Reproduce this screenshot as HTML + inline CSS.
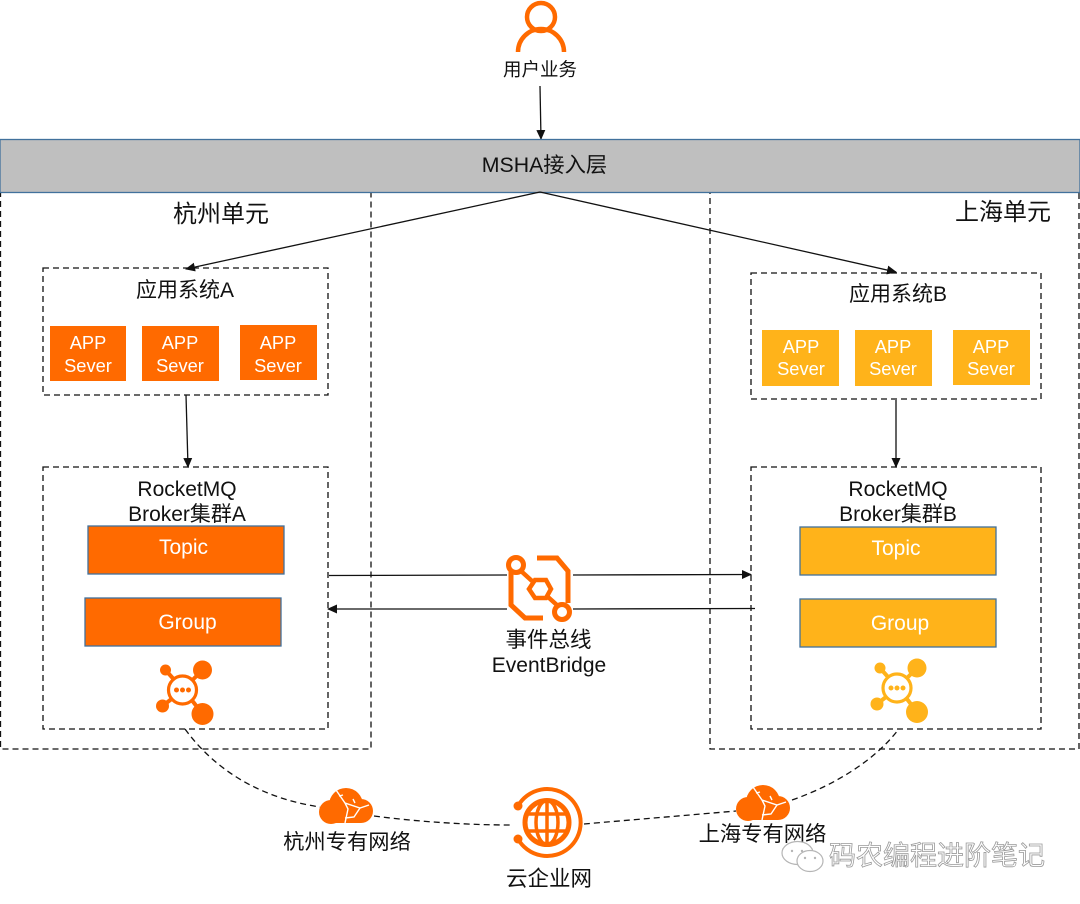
<!DOCTYPE html>
<html><head><meta charset="utf-8"><style>
html,body{margin:0;padding:0;background:#fff}
svg{display:block}
text{font-family:"Liberation Sans","Noto Sans CJK SC",sans-serif;fill:#111;text-anchor:middle}
.w{fill:#fff;font-size:18.3px}
.t{font-size:21px}
.s{font-size:21px}
.d{fill:none;stroke:#111;stroke-width:1.3;stroke-dasharray:6 4}
.a{stroke:#111;stroke-width:1.3;fill:none;marker-end:url(#m)}
.o{fill:#ff6a00}.y{fill:#ffb31a}
.bar{stroke:#41719c;stroke-width:1.3}
</style></head><body>
<svg width="1080" height="904" viewBox="0 0 1080 904" xmlns="http://www.w3.org/2000/svg">
<defs><marker id="m" markerWidth="10" markerHeight="9" refX="9" refY="4.5" orient="auto" markerUnits="userSpaceOnUse"><path d="M0 0L10 4.5L0 9Z" fill="#111"/></marker>
<g id="cloud"><circle cx="346" cy="805" r="17"/><circle cx="331" cy="812" r="12"/><circle cx="361" cy="811" r="12"/><rect x="331" y="808" width="30" height="15"/><path d="M336 790l9 13 15 5 9 -3M345 803l3 6-3 14M360 808l-6 9-9 1M339 796l4-1M353 799l2 4" fill="none" stroke="#fff" stroke-width="1.4"/></g>
<g id="hub" fill="none"><circle cx="0" cy="0" r="14" stroke-width="3.2" stroke="currentColor"/><g fill="currentColor"><circle cx="-6" cy="0" r="2.5"/><circle cx="0" cy="0" r="2.5"/><circle cx="6" cy="0" r="2.5"/><circle cx="-17" cy="-20" r="5.5"/><circle cx="20" cy="-20" r="9.5"/><circle cx="-20" cy="16" r="6.5"/><circle cx="20" cy="24" r="11"/></g><path d="M-17-20L-9-11M20-20L10-10M-20 16L-11 9M20 24L10 11" stroke="currentColor" stroke-width="4"/></g>
</defs>

<!-- user -->
<circle cx="541" cy="17" r="14" fill="none" stroke="#ff6a00" stroke-width="4.5"/>
<path d="M518 52A23 23 0 0 1 564 52" fill="none" stroke="#ff6a00" stroke-width="4.5"/>
<text x="540" y="76" style="font-size:18.5px">用户业务</text>
<line class="a" x1="540" y1="86" x2="541" y2="139"/>

<!-- units -->
<rect class="d" x="0.5" y="192" width="370.5" height="557"/>
<rect class="d" x="710" y="192" width="369" height="557"/>
<rect class="bar" x="0" y="139.5" width="1080" height="53" fill="#bfbfbf"/>
<text x="544.500" y="172" style="font-size:21.300px">MSHA接入层</text>
<text x="221" y="222" style="font-size:24px">杭州单元</text>
<text x="1003" y="220" style="font-size:24px">上海单元</text>
<line class="a" x1="540" y1="192" x2="186" y2="269"/>
<line class="a" x1="540" y1="192" x2="896" y2="272"/>

<!-- app A -->
<rect class="d" x="43" y="268" width="285" height="127"/>
<text x="185" y="297" class="s">应用系统A</text>
<rect class="o" x="50" y="326" width="76" height="55"/>
<rect class="o" x="142" y="326" width="77" height="55"/>
<rect class="o" x="240" y="325" width="77" height="55"/>
<text class="w" x="88" y="349">APP</text><text class="w" x="88" y="372">Sever</text>
<text class="w" x="180" y="349">APP</text><text class="w" x="180" y="372">Sever</text>
<text class="w" x="278" y="349">APP</text><text class="w" x="278" y="372">Sever</text>

<!-- app B -->
<rect class="d" x="751" y="273" width="290" height="126"/>
<text x="898" y="301" class="s">应用系统B</text>
<rect class="y" x="762" y="330" width="77" height="56"/>
<rect class="y" x="855" y="330" width="77" height="56"/>
<rect class="y" x="953" y="330" width="77" height="55"/>
<text class="w" x="801" y="353">APP</text><text class="w" x="801" y="375">Sever</text>
<text class="w" x="893" y="353">APP</text><text class="w" x="893" y="375">Sever</text>
<text class="w" x="991" y="353">APP</text><text class="w" x="991" y="375">Sever</text>

<line class="a" x1="186" y1="395" x2="188" y2="467"/>
<line class="a" x1="896" y1="400" x2="896" y2="467"/>

<!-- rocket A -->
<rect class="d" x="43" y="467" width="285" height="262"/>
<text x="187" y="496" class="s">RocketMQ</text>
<text x="187" y="521" class="s">Broker集群A</text>
<rect class="o bar" x="88" y="526" width="196" height="48"/>
<rect class="o bar" x="85" y="598" width="196" height="48"/>
<text class="w t" x="183.500" y="554">Topic</text>
<text class="w t" x="187.500" y="629">Group</text>
<use href="#hub" transform="translate(182.500,690)" style="color:#ff6a00"/>

<!-- rocket B -->
<rect class="d" x="751" y="467" width="290" height="262"/>
<text x="898" y="496" class="s">RocketMQ</text>
<text x="898" y="521" class="s">Broker集群B</text>
<rect class="y bar" x="800" y="527" width="196" height="48"/>
<rect class="y bar" x="800" y="599" width="196" height="48"/>
<text class="w t" x="896" y="555">Topic</text>
<text class="w t" x="900" y="630">Group</text>
<use href="#hub" transform="translate(897,688)" style="color:#ffb31a"/>

<!-- bridge lines -->
<line x1="329" y1="575.500" x2="507" y2="575" stroke="#111" stroke-width="1.3"/>
<line class="a" x1="573" y1="575" x2="751" y2="574.500"/>
<line x1="755" y1="608.500" x2="573" y2="609" stroke="#111" stroke-width="1.3"/>
<line class="a" x1="507" y1="609" x2="328" y2="609"/>

<!-- event bridge icon -->
<g fill="none" stroke="#ff6a00" stroke-width="5">
<circle cx="516" cy="565" r="7.500"/>
<circle cx="562" cy="612" r="7.500"/>
<path d="M511 572V605L525 618H543"/>
<path d="M537 558H557L568 571V603"/>
<path d="M529 589L535 580H546L551 589L546 598H535Z" stroke-width="4.500"/>
<path d="M521 571L532 581M548 597L558 606" stroke-width="4.500"/>
</g>
<text x="548.500" y="647" style="font-size:21.500px">事件总线</text>
<text x="549" y="672" style="font-size:21px">EventBridge</text>

<!-- dashed network -->
<path class="d" d="M185 729C215 770 260 798 320 807"/>
<path class="d" d="M374 816C420 822 470 825 511 825"/>
<path class="d" d="M584 824C630 820 690 815 736 811"/>
<path class="d" d="M792 800C835 785 875 760 898 730"/>

<use href="#cloud" class="o"/>
<use href="#cloud" class="o" transform="translate(417,-3)"/>
<text x="347" y="849" style="font-size:21.300px">杭州专有网络</text>
<text x="762.500" y="841" style="font-size:21.300px">上海专有网络</text>

<!-- CEN -->
<g fill="none" stroke="#ff6a00">
<path d="M518 806A33.500 33.500 0 1 1 518 839" stroke-width="4"/>
<circle cx="547" cy="822.500" r="22" stroke-width="5"/>
<ellipse cx="547" cy="822.500" rx="11" ry="22" stroke-width="3.500"/>
<path d="M547 800V845M527 814H567M527 831H567" stroke-width="3.500"/>
</g>
<circle class="o" cx="518" cy="806" r="4.500"/><circle class="o" cx="518" cy="839" r="4.500"/>
<text x="549" y="886" style="font-size:21.500px">云企业网</text>

<!-- watermark -->
<g fill="#fff" stroke="#b5b5b5" stroke-width="1.2">
<ellipse cx="797.500" cy="853" rx="15.500" ry="11.500"/>
<ellipse cx="810" cy="861" rx="13" ry="10.500"/>
</g>
<g fill="#b5b5b5"><circle cx="792" cy="851" r="1.200"/><circle cx="802" cy="851" r="1.200"/><circle cx="805" cy="858" r="1.200"/><circle cx="815" cy="858" r="1.200"/></g>
<text x="937" y="865" style="font-size:27px;fill:#fff;stroke:#9a9a9a;stroke-width:.8">码农编程进阶笔记</text>
</svg>
</body></html>
